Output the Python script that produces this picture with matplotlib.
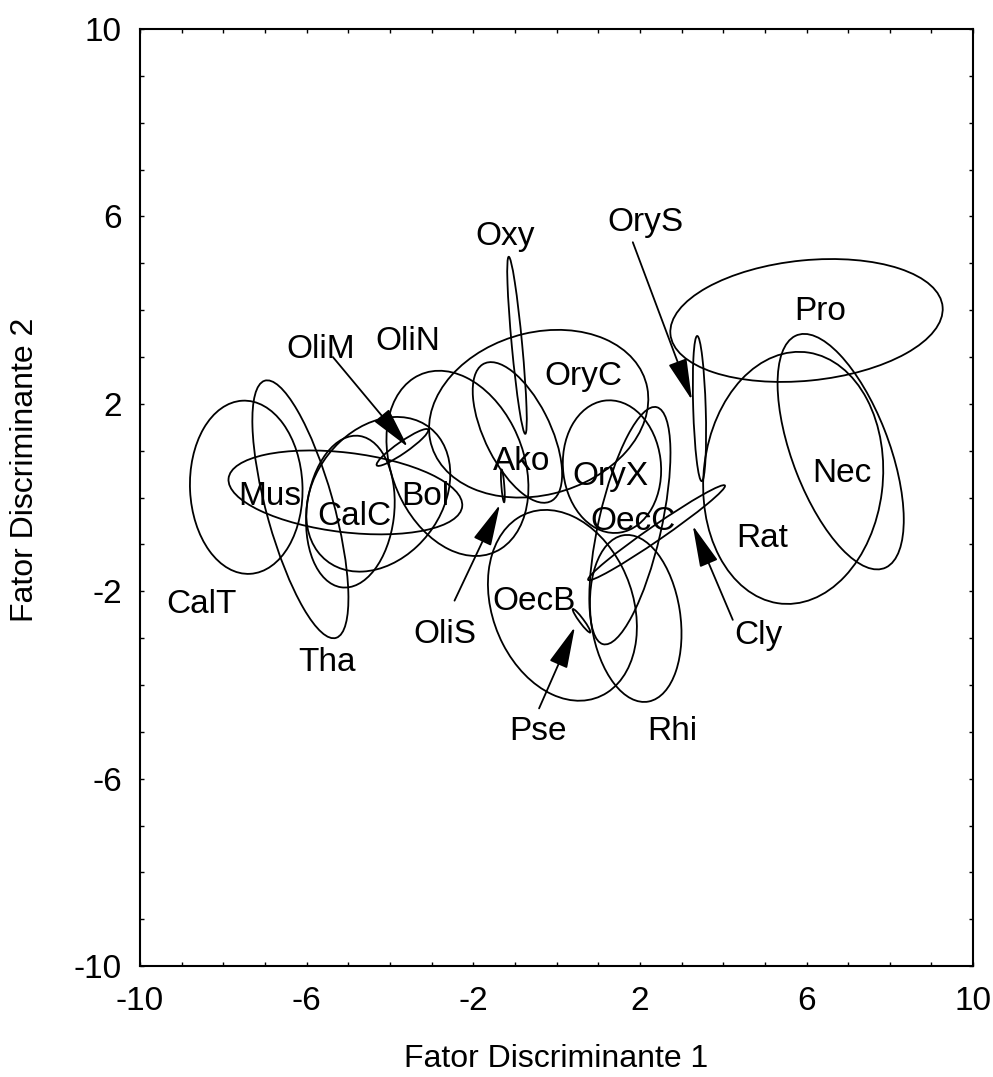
import matplotlib
matplotlib.use("Agg")
import matplotlib.pyplot as plt
from matplotlib.patches import Ellipse
from matplotlib.ticker import MultipleLocator, FixedLocator

plt.rcParams['font.family'] = ['Liberation Sans', 'DejaVu Sans']
plt.rcParams['axes.unicode_minus'] = False

# ellipses (group confidence regions)
ell_names = ["CalT", "Tha", "Mus", "Bol", "CalC", "OliM", "OliN", "OliS", "Ako", "Oxy", "OryC",
             "OryX", "OecC", "Cly", "OecB", "Pse", "Rhi", "Nec", "Rat", "Pro", "OryS"]
ell_x = [-7.45, -6.15, -5.07, -4.28, -4.95, -3.70, -2.38, -1.29, -0.94, -0.95, -0.43,
         1.33, 1.76, 2.40, 0.14, 0.60, 1.90, 6.82, 5.68, 6.00, 3.43]
ell_y = [0.22, -0.25, 0.11, 0.07, -0.30, 1.07, 0.73, 0.25, 1.39, 3.25, 1.79,
         0.66, -0.60, -0.75, -2.30, -2.63, -2.58, 0.98, 0.42, 3.78, 1.90]
ell_w = [2.7, 5.75, 5.64, 3.8, 2.1, 1.45, 3.1, 0.7, 3.35, 3.8, 5.33,
         2.35, 5.22, 3.85, 4.3, 0.65, 3.6, 5.4, 4.3, 6.56, 3.1]
ell_h = [3.7, 1.6, 1.7, 2.9, 3.26, 0.25, 4.2, 0.07, 1.55, 0.25, 3.48,
         2.84, 1.5, 0.32, 3.3, 0.1, 2.14, 2.3, 5.4, 2.57, 0.3]
ell_angle = [3, 107.5, -6, 40, -8, 31.6, 30, 95, 120, 96, 12,
             8, 75.6, 31.5, 120, -50, 100, 113.8, -8, 5, 92]

# text labels (baseline positions)
labels = ["CalT", "Tha", "Mus", "CalC", "Bol", "OliM", "OliN", "OliS", "Ako", "Oxy", "OryC",
          "OryX", "OecC", "OecB", "Pse", "Rhi", "Cly", "Rat", "Nec", "Pro", "OryS"]
label_x = [-8.52, -5.50, -6.88, -4.86, -3.16, -5.66, -3.57, -2.68, -0.83, -1.24, 0.65,
           1.30, 1.83, -0.54, -0.45, 2.77, 4.84, 4.93, 6.85, 6.34, 2.14]
label_y = [-2.47, -3.70, -0.16, -0.59, -0.16, 2.97, 3.15, -3.11, 0.59, 5.39, 2.40,
           0.27, -0.69, -2.40, -5.18, -5.18, -3.13, -1.05, 0.34, 3.79, 5.70]

# arrows: label -> small ellipse
arrow_from_x = [-5.37, -2.45, -0.42, 4.23, 1.83]
arrow_from_y = [3.00, -2.20, -4.50, -2.61, 5.45]
arrow_to_x = [-3.57, -1.36, 0.44, 3.27, 3.25]
arrow_to_y = [1.08, -0.15, -2.76, -0.60, 2.08]

fig = plt.figure(figsize=(9.93, 10.77), dpi=100)
ax = fig.add_axes([0.141, 0.103, 0.839, 0.870])

for i in range(len(ell_names)):
    e = Ellipse((ell_x[i], ell_y[i]), ell_w[i], ell_h[i], angle=ell_angle[i],
                fill=False, edgecolor='black', lw=1.3)
    ax.add_patch(e)

for i in range(len(labels)):
    ax.text(label_x[i], label_y[i], labels[i], fontsize=24, ha='center', va='baseline')

for i in range(len(arrow_from_x)):
    ax.annotate('', xy=(arrow_to_x[i], arrow_to_y[i]), xytext=(arrow_from_x[i], arrow_from_y[i]),
                arrowprops=dict(arrowstyle='-|>,head_length=1.3,head_width=0.3', color='black',
                                lw=1.3, shrinkA=0, shrinkB=0, mutation_scale=20))

ax.set_xlim(-10, 10)
ax.set_ylim(-10, 10)
ticks = [-10, -6, -2, 2, 6, 10]
ax.xaxis.set_major_locator(FixedLocator(ticks))
ax.yaxis.set_major_locator(FixedLocator(ticks))
ax.xaxis.set_minor_locator(MultipleLocator(1))
ax.yaxis.set_minor_locator(MultipleLocator(1))
ax.tick_params(which='both', direction='in', top=True, right=True, length=3, width=1)
ax.tick_params(axis='x', which='major', labelsize=24, pad=14)
ax.tick_params(axis='y', which='major', labelsize=24, pad=13)
for s in ax.spines.values():
    s.set_linewidth(1.5)

ax.set_xlabel("Fator Discriminante 1", fontsize=23, labelpad=20)
ax.set_ylabel("Fator Discriminante 2", fontsize=23)
ax.yaxis.set_label_coords(-0.12, 0.53)

plt.savefig("out.png", dpi=100)
